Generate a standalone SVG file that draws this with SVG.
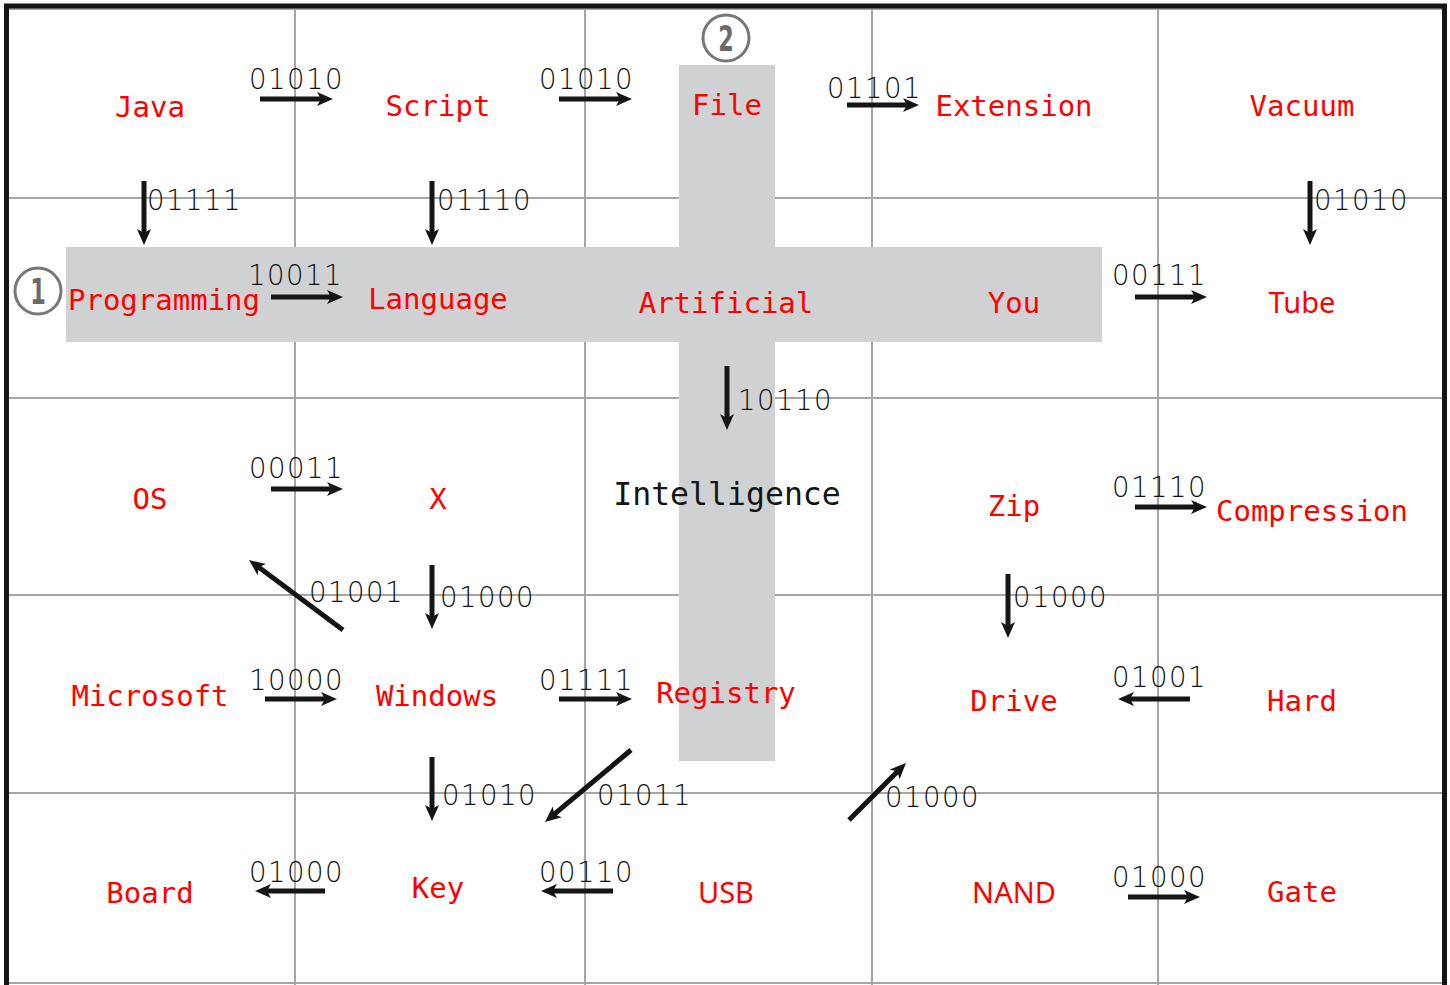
<svg xmlns="http://www.w3.org/2000/svg" width="1450" height="985" viewBox="0 0 1450 985">
<style>
.grid{stroke:#a6a6a6;stroke-width:2;fill:none}
.bar{fill:#d0d1d3}
.w{font-family:"DejaVu Sans Mono","Liberation Mono",monospace;font-size:29px;fill:#ff0000;text-anchor:middle}
.ws{font-family:"Noto Sans","DejaVu Sans",sans-serif;font-size:29px;fill:#ff0000;text-anchor:middle}
.wb{font-family:"DejaVu Sans Mono","Liberation Mono",monospace;font-size:31.5px;fill:#151515;text-anchor:middle}
.b{font-family:"DejaVu Sans ExtraLight","DejaVu Sans",sans-serif;font-weight:200;font-size:27.5px;letter-spacing:1.5px;fill:#111}
.a{stroke:#151515;stroke-width:5;fill:none;marker-end:url(#ah)}
.num{fill:none;stroke:#777;stroke-width:3}
.nt{font-family:"DejaVu Sans",sans-serif;font-size:36px;fill:#6a6a6a;text-anchor:middle;font-weight:bold}
</style>
<defs>
<marker id="ah" markerUnits="userSpaceOnUse" viewBox="-10 -8 20 16" markerWidth="20" markerHeight="16" refX="0" refY="0" orient="auto">
<path d="M-8,-7 L8,0 L-8,7 L-4,0 z" fill="#151515"/>
</marker>
</defs>
<rect x="0" y="0" width="1450" height="985" fill="#fff"/>
<g id="grid">
<line class="grid" x1="7" y1="9" x2="1443" y2="9"/>
<line class="grid" x1="7" y1="983" x2="1443" y2="983"/>
<line class="grid" x1="295" y1="9" x2="295" y2="985"/>
<line class="grid" x1="585" y1="9" x2="585" y2="985"/>
<line class="grid" x1="872" y1="9" x2="872" y2="985"/>
<line class="grid" x1="1158" y1="9" x2="1158" y2="985"/>
<line class="grid" x1="7" y1="198" x2="1443" y2="198"/>
<line class="grid" x1="7" y1="398" x2="1443" y2="398"/>
<line class="grid" x1="7" y1="595" x2="1443" y2="595"/>
<line class="grid" x1="7" y1="793" x2="1443" y2="793"/>
</g>
<g id="cross">
<rect class="bar" x="66" y="247" width="1036" height="95"/>
<rect class="bar" x="679" y="65" width="96" height="696"/>
</g>
<g id="border" stroke="#151515" stroke-width="5" fill="none">
<line x1="4" y1="6" x2="1447" y2="6"/>
<line x1="6.5" y1="4" x2="6.5" y2="985"/>
<line x1="1444.5" y1="4" x2="1444.5" y2="985"/>
</g>
<g id="markers">
<g id="m1"><circle class="num" cx="38" cy="291" r="23"/><text class="nt" x="38" y="304" transform="translate(38 291) scale(0.62 1) translate(-38 -291)">1</text></g>
<g id="m2"><circle class="num" cx="726" cy="38" r="23"/><text class="nt" x="726" y="51" transform="translate(726 38) scale(0.62 1) translate(-726 -38)">2</text></g>
</g>
<g id="n-java"><text class="w" x="150" y="117">Java</text></g>
<g id="n-script"><text class="w" x="438" y="116">Script</text></g>
<g id="n-file"><text class="w" x="727" y="115">File</text></g>
<g id="n-extension"><text class="w" x="1014" y="116">Extension</text></g>
<g id="n-vacuum"><text class="w" x="1302" y="116">Vacuum</text></g>
<g id="n-programming"><text class="w" x="164" y="310">Programming</text></g>
<g id="n-language"><text class="w" x="438" y="309">Language</text></g>
<g id="n-artificial"><text class="w" x="726" y="313">Artificial</text></g>
<g id="n-you"><text class="w" x="1014" y="313">You</text></g>
<g id="n-tube"><text class="ws" x="1302" y="313">Tube</text></g>
<g id="n-os"><text class="w" x="150" y="509">OS</text></g>
<g id="n-x"><text class="w" x="438" y="509">X</text></g>
<g id="n-intelligence"><text class="wb" x="727" y="505">Intelligence</text></g>
<g id="n-zip"><text class="w" x="1014" y="516">Zip</text></g>
<g id="n-compression"><text class="w" x="1312" y="521">Compression</text></g>
<g id="n-microsoft"><text class="w" x="150" y="706">Microsoft</text></g>
<g id="n-windows"><text class="w" x="437" y="706">Windows</text></g>
<g id="n-registry"><text class="w" x="726" y="703">Registry</text></g>
<g id="n-drive"><text class="w" x="1014" y="711">Drive</text></g>
<g id="n-hard"><text class="w" x="1302" y="711">Hard</text></g>
<g id="n-board"><text class="w" x="150" y="903">Board</text></g>
<g id="n-key"><text class="w" x="438" y="898">Key</text></g>
<g id="n-usb"><text class="ws" x="726" y="903">USB</text></g>
<g id="n-nand"><text class="ws" x="1014" y="903">NAND</text></g>
<g id="n-gate"><text class="w" x="1302" y="902">Gate</text></g>
<g id="connectors">
<line class="a" x1="260" y1="99" x2="325" y2="99"/>
<line class="a" x1="559" y1="99" x2="624" y2="99"/>
<line class="a" x1="847" y1="105" x2="911" y2="105"/>
<line class="a" x1="144" y1="181" x2="144" y2="237"/>
<line class="a" x1="432" y1="181" x2="432" y2="237"/>
<line class="a" x1="1310" y1="181" x2="1310" y2="237"/>
<line class="a" x1="271" y1="297" x2="335" y2="297"/>
<line class="a" x1="1135" y1="297" x2="1199" y2="297"/>
<line class="a" x1="727" y1="366" x2="727" y2="422"/>
<line class="a" x1="271" y1="489" x2="335" y2="489"/>
<line class="a" x1="1135" y1="507" x2="1199" y2="507"/>
<line class="a" x1="343" y1="630" x2="255.4" y2="564.8"/>
<line class="a" x1="432" y1="565" x2="432" y2="621"/>
<line class="a" x1="1008" y1="574" x2="1008" y2="630"/>
<line class="a" x1="265" y1="699" x2="329" y2="699"/>
<line class="a" x1="559" y1="699" x2="624" y2="699"/>
<line class="a" x1="1190" y1="699" x2="1126" y2="699"/>
<line class="a" x1="432" y1="757" x2="432" y2="813"/>
<line class="a" x1="631" y1="750" x2="551.1" y2="816.9"/>
<line class="a" x1="849" y1="820" x2="900.3" y2="768.7"/>
<line class="a" x1="325" y1="891" x2="263" y2="891"/>
<line class="a" x1="613" y1="891" x2="549" y2="891"/>
<line class="a" x1="1128" y1="897" x2="1192" y2="897"/>
<text class="b" x="249" y="89">01010</text>
<text class="b" x="539" y="89">01010</text>
<text class="b" x="827" y="98">01101</text>
<text class="b" x="147" y="210">01111</text>
<text class="b" x="437" y="210">01110</text>
<text class="b" x="1314" y="210">01010</text>
<text class="b" x="248" y="285">10011</text>
<text class="b" x="1112" y="285">00111</text>
<text class="b" x="738" y="410">10110</text>
<text class="b" x="249" y="478">00011</text>
<text class="b" x="1112" y="497">01110</text>
<text class="b" x="309" y="602">01001</text>
<text class="b" x="440" y="607">01000</text>
<text class="b" x="1013" y="607">01000</text>
<text class="b" x="249" y="690">10000</text>
<text class="b" x="539" y="690">01111</text>
<text class="b" x="1112" y="687">01001</text>
<text class="b" x="442" y="805">01010</text>
<text class="b" x="597" y="805">01011</text>
<text class="b" x="885" y="807">01000</text>
<text class="b" x="249" y="882">01000</text>
<text class="b" x="539" y="882">00110</text>
<text class="b" x="1112" y="887">01000</text>
</g>
</svg>
